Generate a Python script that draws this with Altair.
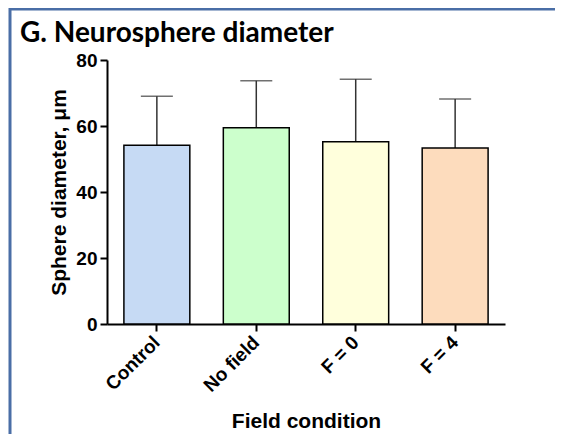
import altair as alt
import pandas as pd

categories = ["Control", "No field", "F = 0", "F = 4"]
means = [54.2, 59.5, 55.2, 53.3]
sds = [14.8, 14.2, 19.0, 14.9]
colors = ["#c6daf4", "#ccffcc", "#ffffdc", "#fddcbd"]
title_text = ["G. Neurosphere diameter"]

df = pd.DataFrame({"cond": categories, "mean": means, "sd": sds, "color": colors})
df["upper"] = df["mean"] + df["sd"]

LBL = "Liberation Sans"

x = alt.X("cond:N", sort=categories, title="Field condition",
          scale=alt.Scale(paddingInner=0.337, paddingOuter=0.17),
          axis=alt.Axis(labelAngle=-45, labelAlign="right", labelBaseline="middle",
                        labelFont=LBL, labelFontWeight="bold", labelFontSize=19,
                        labelColor="black", labelPadding=8,
                        titleFont=LBL, titleFontWeight="bold", titleFontSize=21,
                        titleColor="black", titlePadding=15,
                        domainColor="black", domainWidth=2, tickColor="black",
                        tickWidth=2, tickSize=7))
y = alt.Y("mean:Q", title="Sphere diameter, μm",
          scale=alt.Scale(domain=[0, 80]),
          axis=alt.Axis(values=[0, 20, 40, 60, 80], grid=False,
                        labelFont=LBL, labelFontWeight="bold", labelFontSize=19,
                        labelColor="black", labelPadding=3,
                        titleFont=LBL, titleFontWeight="bold", titleFontSize=21,
                        titleColor="black", titlePadding=6,
                        domainColor="black", domainWidth=2, tickColor="black",
                        tickWidth=2, tickSize=7))

base = alt.Chart(df)

err = base.mark_rule(color="#333333", strokeWidth=1.5).encode(
    x=alt.X("cond:N", sort=categories), y="mean:Q", y2="upper:Q")
cap = base.mark_tick(color="#333333", thickness=1.5, size=32, orient="horizontal").encode(
    x=alt.X("cond:N", sort=categories), y="upper:Q")
bars = base.mark_bar(stroke="black", strokeWidth=1.5).encode(
    x=x, y=y, fill=alt.Fill("color:N", scale=None))

tdf = pd.DataFrame({"t": title_text})
title = alt.Chart(tdf).mark_text(font="Lato", fontSize=28, fontWeight="bold",
                                 color="black", align="left", baseline="alphabetic").encode(
    text="t:N", x=alt.value(-87), y=alt.value(-18))

frame_top = alt.Chart(tdf).mark_rule(color="#4a6ea6", strokeWidth=3).encode(
    x=alt.value(-98), x2=alt.value(460), y=alt.value(-51))
frame_left = alt.Chart(tdf).mark_rule(color="#4a6ea6", strokeWidth=3).encode(
    x=alt.value(-97), y=alt.value(-52), y2=alt.value(380))

chart = alt.layer(err, cap, bars, title, frame_top, frame_left).properties(
    width=398, height=264,
    autosize=alt.AutoSizeParams(type="none"),
    padding={"left": 99, "top": 52, "right": 50, "bottom": 110},
    background="white",
).configure_view(stroke=None)

chart.save("out.html", embed_options={"renderer": "svg", "actions": False})
